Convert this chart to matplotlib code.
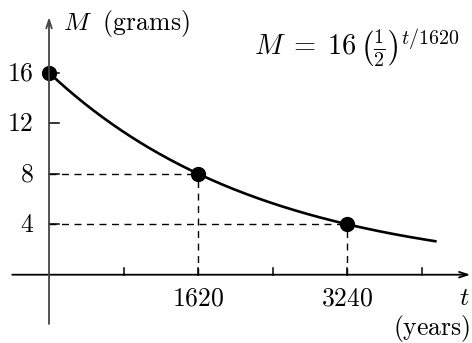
import numpy as np
import matplotlib.pyplot as plt

plt.rcParams['mathtext.fontset'] = 'cm'
plt.rcParams['font.family'] = 'serif'
plt.rcParams['font.serif'] = ['DejaVu Serif']

# data
half_life = 1620
M0 = 16
point_t = [0, 1620, 3240]
point_M = [16, 8, 4]
yticks = [4, 8, 12, 16]
xticks_minor = [810, 2430, 4050]
xticks_major = [1620, 3240]
t_end = 4200

fig = plt.figure(figsize=(4.72, 3.43), dpi=100)
ax = fig.add_axes([0, 0, 1, 1])
ax.set_xlim(-533, 4599)
ax.set_ylim(-5.41, 21.76)
ax.axis('off')

FS = 18.5

# axes with arrows
ax.annotate('', xy=(4580, 0), xytext=(-400, 0),
            arrowprops=dict(arrowstyle='->,head_length=0.6,head_width=0.2', lw=1.3, color='black',
                            shrinkA=0, shrinkB=0))
ax.annotate('', xy=(0, 20.4), xytext=(0, -3.9),
            arrowprops=dict(arrowstyle='->,head_length=0.6,head_width=0.2', lw=1.3, color='#444444',
                            shrinkA=0, shrinkB=0))

# ticks
for y in yticks:
    ax.plot([0, 110], [y, y], color='black', lw=1.1)
    ax.text(-165, y, '$%d$' % y, ha='right', va='center', fontsize=FS)
for x in xticks_minor + xticks_major:
    ax.plot([x, x], [0, 0.55], color='black', lw=1.1)
for x in xticks_major:
    ax.text(x, -2.4, '$%d$' % x, ha='center', va='baseline', fontsize=FS)

# dashed guides
for t, m in zip(point_t[1:], point_M[1:]):
    ax.plot([0, t], [m, m], ls=(0, (5, 4)), color='black', lw=1.0)
    ax.plot([t, t], [0, m], ls=(0, (5, 4)), color='black', lw=1.0)

# curve
t = np.linspace(0, t_end, 300)
ax.plot(t, M0 * 0.5 ** (t / half_life), color='black', lw=1.9)
ax.plot(point_t, point_M, 'o', color='black', markersize=10)

# labels
ax.text(150, 19.4, r'$M\ \ \mathrm{(grams)}$', ha='left', va='baseline', fontsize=FS)
ax.text(4575, -2.4, '$t$', ha='right', va='baseline', fontsize=FS)
ax.text(4585, -4.75, r'$\mathrm{(years)}$', ha='right', va='baseline', fontsize=FS)
ax.text(2230, 17.4, r'$M\;=\;16\,\left(\frac{1}{2}\right)^{t/1620}$', ha='left', va='baseline', fontsize=20.5)

fig.savefig('out.png', dpi=100)
